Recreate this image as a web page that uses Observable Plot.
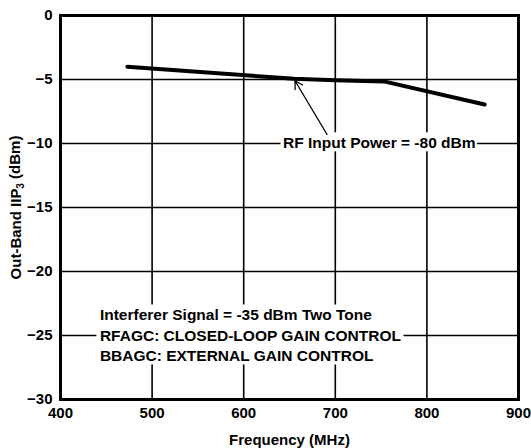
<!DOCTYPE html>
<html>
<head>
<meta charset="utf-8">
<script src="https://cdn.jsdelivr.net/npm/d3@7"></script>
<script src="https://cdn.jsdelivr.net/npm/@observablehq/plot@0.6"></script>
<style>
  html, body { margin: 0; padding: 0; background: #fff; overflow: hidden; }
  svg { overflow: visible; display: block; }
</style>
</head>
<body>
<div id="chart"></div>
<script>
// Series: Out-Band IIP3 vs frequency, RF input power = -80 dBm
const freq = [473, 655, 700, 753, 863];
const iip3 = [-4.0, -4.95, -5.05, -5.15, -6.95];

const xTicks = [400, 500, 600, 700, 800, 900];
const yTicks = [0, -5, -10, -15, -20, -25, -30];

// Annotations
const seriesLabel = ["RF Input Power = -80 dBm"];
const seriesLabelPos = [{x: 748, y: -9.95}];
const arrowFrom = [{x: 691, y: -9.3}];
const arrowTo = [{x: 656, y: -5.1}];
const noteLines = ["Interferer Signal = -35 dBm Two Tone", "RFAGC: CLOSED-LOOP GAIN CONTROL", "BBAGC: EXTERNAL GAIN CONTROL"];
const noteX = 443;
const noteY = [-23.4, -25.05, -26.6];

const font = "'Liberation Sans', Arial, sans-serif";
const data = freq.map((f, i) => ({f, v: iip3[i]}));
const notes = noteLines.map((t, i) => ({t, x: noteX, y: noteY[i]}));
const lbl = seriesLabel.map((t, i) => ({t, ...seriesLabelPos[i]}));
const arr = arrowFrom.map((a, i) => ({x1: a.x, y1: a.y, x2: arrowTo[i].x, y2: arrowTo[i].y}));

const chart = Plot.plot({
  width: 531,
  height: 448,
  marginLeft: 60,
  marginRight: 13,
  marginTop: 15,
  marginBottom: 49,
  style: {fontFamily: font, fontWeight: "bold", fontSize: "15px", color: "#000", background: "#fff"},
  x: {domain: [400, 900], ticks: xTicks},
  y: {domain: [-30, 0], ticks: yTicks},
  marks: [
    Plot.gridX(xTicks, {stroke: "#000", strokeOpacity: 1, strokeWidth: 1.6}),
    Plot.gridY(yTicks, {stroke: "#000", strokeOpacity: 1, strokeWidth: 1.6}),
    Plot.axisX(xTicks, {tickSize: 0, tickPadding: 8, fontSize: 15, fontWeight: "bold",
      label: "Frequency (MHz)", labelAnchor: "center", labelOffset: 45, labelArrow: "none"}),
    Plot.axisY(yTicks, {tickSize: 0, tickPadding: 8, fontSize: 15, fontWeight: "bold",
      label: "Out-Band IIP3 (dBm)", labelAnchor: "center", labelOffset: 50, labelArrow: "none"}),
    Plot.line(data, {x: "f", y: "v", stroke: "#000", strokeWidth: 4, strokeLinecap: "round"}),
    Plot.text(lbl, {x: "x", y: "y", text: "t", fontSize: 15.5, fontWeight: "bold", fill: "#000", ariaDescription: "lbl"}),
    Plot.arrow(arr, {x1: "x1", y1: "y1", x2: "x2", y2: "y2", stroke: "#000", strokeWidth: 1.3, headLength: 10}),
    Plot.text(notes, {x: "x", y: "y", text: "t", textAnchor: "start", fontSize: 15.5, fontWeight: "bold", fill: "#000", ariaDescription: "notes"}),
    Plot.frame({stroke: "#000", strokeWidth: 3})
  ]
});
document.getElementById("chart").appendChild(chart);

// white backgrounds behind annotation text
for (const [name, px, py] of [["lbl", 2, 1], ["notes", 3, 1]]) {
  const g = chart.querySelector(`g[aria-description="${name}"]`);
  if (!g) continue;
  const b = g.getBBox();
  const r = document.createElementNS("http://www.w3.org/2000/svg", "rect");
  r.setAttribute("x", b.x - px);
  r.setAttribute("y", b.y - py);
  r.setAttribute("width", b.width + 2 * px);
  r.setAttribute("height", b.height + 2 * py);
  r.setAttribute("fill", "#fff");
  g.parentNode.insertBefore(r, g);
}

// subscript 3 in the y label
d3.select(chart).selectAll("text").each(function() {
  if (this.textContent === "Out-Band IIP3 (dBm)") {
    const t = d3.select(this);
    t.text("");
    t.append("tspan").text("Out-Band IIP");
    t.append("tspan").attr("font-size", "10px").attr("dy", "0.3em").text("3");
    t.append("tspan").attr("dy", "-0.3em").text(" (dBm)");
  }
});
</script>
</body>
</html>
